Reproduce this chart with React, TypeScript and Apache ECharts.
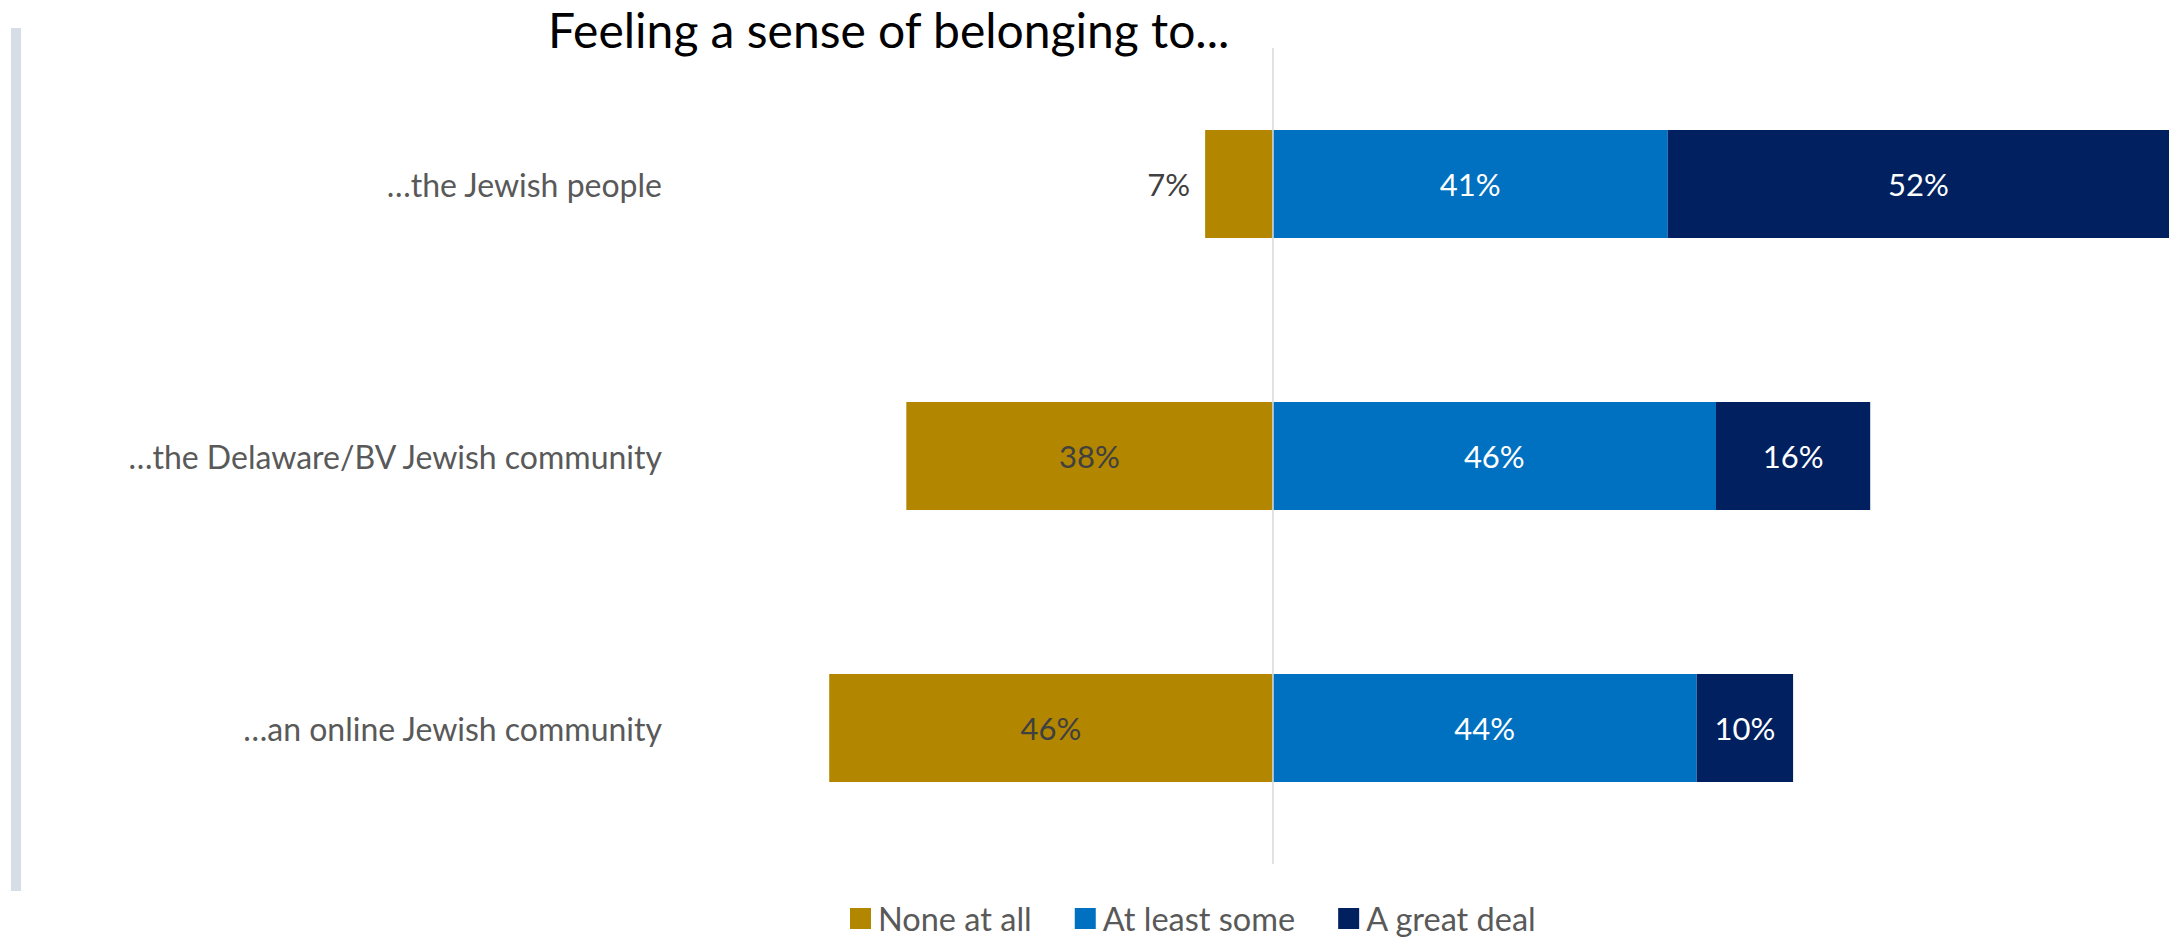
import React, { useEffect, useRef } from "react";
import * as echarts from "echarts";

const categories = [
  "…the Jewish people",
  "…the Delaware/BV Jewish community",
  "…an online Jewish community",
];
const noneAtAll = [7, 38, 46];
const atLeastSome = [41, 46, 44];
const aGreatDeal = [52, 16, 10];
const seriesNames = ["None at all", "At least some", "A great deal"];
const titleText = "Feeling a sense of belonging to...";

const FONT = "Lato";

export default function App() {
  const ref = useRef<HTMLDivElement>(null);
  useEffect(() => {
    if (!ref.current) return;
    const chart = echarts.init(ref.current, null, { renderer: "svg" });
    const labelBase = {
      show: true,
      fontFamily: FONT,
      fontSize: 31,
      formatter: (p: any) => Math.abs(p.value) + "%",
    };
    chart.setOption({
      animation: false,
      backgroundColor: "#ffffff",
      title: {
        text: titleText,
        left: 548,
        top: 5,
        padding: 0,
        textStyle: { fontFamily: FONT, fontSize: 48, fontWeight: "normal", color: "#000000" },
      },
      legend: {
        left: 850,
        top: 902,
        padding: 0,
        itemWidth: 21,
        itemHeight: 21,
        itemGap: 43,
        icon: "rect",
        textStyle: { fontFamily: FONT, fontSize: 32.5, color: "#595959", padding: [0, 0, 0, 2] },
        data: seriesNames,
      },
      graphic: [
        {
          type: "rect",
          shape: { x: 11, y: 28, width: 10, height: 863 },
          style: { fill: "#d6dde7" },
        },
      ],
      grid: { left: 675, right: 5, top: 48, height: 816, containLabel: false },
      xAxis: {
        type: "value",
        min: -62,
        max: 93,
        show: false,
      },
      yAxis: {
        type: "category",
        inverse: true,
        data: categories,
        axisLine: { show: false, onZero: false },
        axisTick: { show: false },
        axisLabel: { fontFamily: FONT, fontSize: 32, color: "#595959", margin: 13 },
      },
      series: [
        {
          name: seriesNames[0],
          type: "bar",
          stack: "total",
          barWidth: 108,
          itemStyle: { color: "#B38600" },
          label: { ...labelBase, position: "inside", color: "#404040" },
          data: noneAtAll.map((v, i) =>
            i === 0
              ? { value: -v, label: { position: "left", distance: 15 } }
              : { value: -v }
          ),
          markLine: {
            silent: true,
            symbol: "none",
            label: { show: false },
            lineStyle: { color: "#d9d9d9", type: "solid", width: 1.5 },
            data: [{ xAxis: 0 }],
          },
        },
        {
          name: seriesNames[1],
          type: "bar",
          stack: "total",
          barWidth: 108,
          itemStyle: { color: "#0070C0" },
          label: { ...labelBase, position: "inside", color: "#ffffff" },
          data: atLeastSome,
        },
        {
          name: seriesNames[2],
          type: "bar",
          stack: "total",
          barWidth: 108,
          itemStyle: { color: "#002060" },
          label: { ...labelBase, position: "inside", color: "#ffffff" },
          data: aGreatDeal,
        },
      ],
    });
    return () => chart.dispose();
  }, []);
  return (
    <div
      ref={ref}
      style={{ position: "absolute", left: 0, top: 0, width: 2174, height: 938 }}
    />
  );
}
